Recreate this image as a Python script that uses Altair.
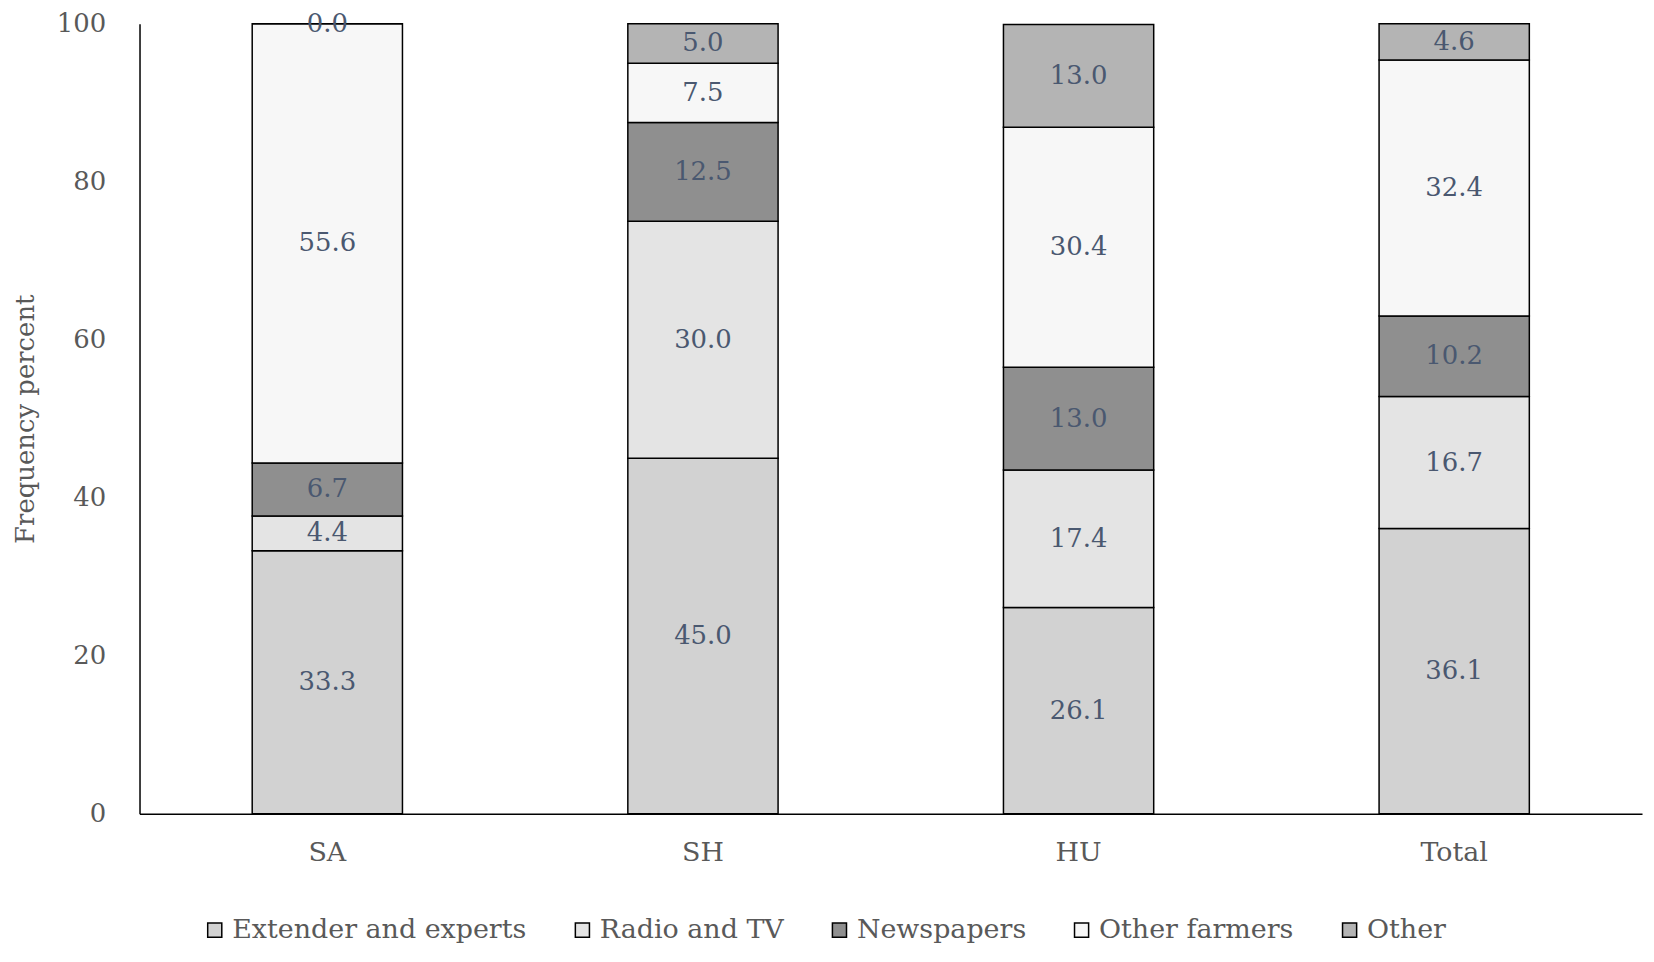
import altair as alt
import pandas as pd

regions = ["SA", "SH", "HU", "Total"]
sources = ["Extender and experts", "Radio and TV", "Newspapers", "Other farmers", "Other"]
extender = [33.3, 45.0, 26.1, 36.1]
radio = [4.4, 30.0, 17.4, 16.7]
newspapers = [6.7, 12.5, 13.0, 10.2]
other_farmers = [55.6, 7.5, 30.4, 32.4]
other = [0.0, 5.0, 13.0, 4.6]

series = [extender, radio, newspapers, other_farmers, other]
rows = []
for si, (src, vals) in enumerate(zip(sources, series)):
    for r, v in zip(regions, vals):
        rows.append({"region": r, "source": src, "order": si, "value": v,
                     "label": f"{v:.1f}"})
df = pd.DataFrame(rows)

fills = ["#d2d2d2", "#e4e4e4", "#8f8f8f", "#f7f7f7", "#b4b4b4"]
FONT = "DejaVu Serif"
GREY = "#595959"

base = alt.Chart(df).transform_stack(
    stack="value", groupby=["region"], as_=["y0", "y1"],
    sort=[alt.SortField("order", order="ascending")]
).transform_calculate(mid="(datum.y0 + datum.y1) / 2")

xenc = alt.X("region:N", sort=regions, title=None,
             scale=alt.Scale(paddingInner=0.6, paddingOuter=0.3),
             axis=alt.Axis(labelAngle=0, labelFont=FONT, labelFontSize=27,
                           labelColor=GREY, labelPadding=26, ticks=False, grid=False,
                           domainColor="#000000", domainWidth=1.5))

bars = base.mark_bar(stroke="#000000", strokeWidth=1.5).encode(
    x=xenc,
    y=alt.Y("y0:Q", title="Frequency percent",
            scale=alt.Scale(domain=[0, 100], nice=False),
            axis=alt.Axis(values=[0, 20, 40, 60, 80, 100], grid=False, ticks=False,
                          labelFont=FONT, labelFontSize=26, labelColor=GREY,
                          labelPadding=34, domainColor="#000000", domainWidth=1.5,
                          titleFont=FONT, titleFontSize=26, titleColor=GREY,
                          titleFontWeight="normal", titlePadding=18)),
    y2="y1:Q",
    fill=alt.Fill("source:N", sort=sources, title=None,
                  scale=alt.Scale(domain=sources, range=fills),
                  legend=alt.Legend(orient="none", direction="horizontal",
                                    legendX=62, legendY=896,
                                    symbolType="square", symbolSize=200,
                                    symbolStrokeColor="#000000", symbolStrokeWidth=1.5,
                                    labelFont=FONT, labelFontSize=27, labelColor=GREY,
                                    columnPadding=42, labelLimit=400)),
    order=alt.Order("order:Q"),
)

labels = base.mark_text(font=FONT, fontSize=26, color="#4a5870").encode(
    x=alt.X("region:N", sort=regions),
    y=alt.Y("mid:Q"),
    text="label:N",
)

chart = alt.layer(bars, labels).properties(
    width=1508, height=793,
    autosize=alt.AutoSizeParams(type="none"),
    padding={"left": 132, "top": 14, "right": 4, "bottom": 131},
).configure(background="#ffffff").configure_view(stroke=None)

chart.save("out.html", embed_options={"renderer": "svg", "actions": False})
